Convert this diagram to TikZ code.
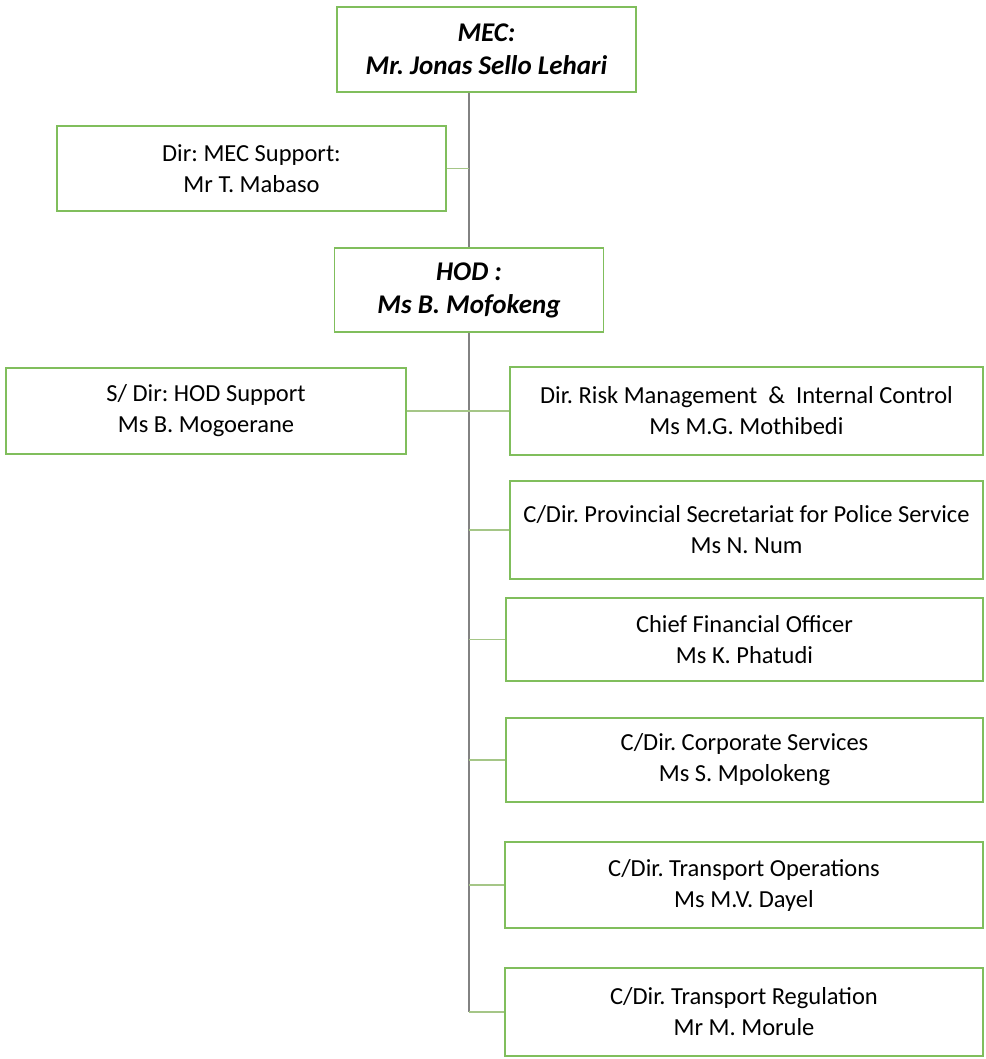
\documentclass[tikz,border=0pt]{standalone}
\usepackage{fontspec}
\setmainfont{Carlito}
\definecolor{boxgreen}{RGB}{128,190,92}
\definecolor{linegray}{RGB}{130,130,130}
\definecolor{linkgreen}{RGB}{165,198,135}
\begin{document}
\frenchspacing
\begin{tikzpicture}[x=1pt,y=-1pt,
  orgbox/.style={draw=boxgreen, line width=1.6pt, fill=white, rectangle, inner sep=0pt,
    align=center, font=\fontsize{24.5}{31}\selectfont},
  topbox/.style={orgbox, font=\fontsize{27}{33}\selectfont\bfseries\itshape},
  trunk/.style={draw=linegray, line width=1.4pt},
  link/.style={draw=linkgreen, line width=1.2pt}]
\useasboundingbox (0,0) rectangle (985,1059);
\fill[white] (0,0) rectangle (985,1059);
% boxes
\node[topbox, minimum width=299pt, minimum height=85pt] (mec) at (486.5,49.5) {MEC:\\Mr. Jonas Sello Lehari};
\node[orgbox, minimum width=389pt, minimum height=85pt] (sup) at (251.5,168.5) {Dir: MEC Support:\\Mr T. Mabaso};
\node[topbox, minimum width=269pt, minimum height=84pt] (hod) at (469,290) {HOD :\\Ms B. Mofokeng};
\node[orgbox, minimum width=400pt, minimum height=86pt] (sdir) at (206,411) {S/ Dir: HOD Support\\Ms B. Mogoerane};
\node[orgbox, minimum width=473pt, minimum height=88pt] (risk) at (746.5,411) {Dir. Risk Management \ \& \ Internal Control\\Ms M.G. Mothibedi};
\node[orgbox, minimum width=473pt, minimum height=98pt] (prov) at (746.5,530) {C/Dir. Provincial Secretariat for Police Service\\Ms N. Num};
\node[orgbox, minimum width=477pt, minimum height=83pt] (cfo) at (744.5,639.5) {Chief Financial Officer\\Ms K. Phatudi};
\node[orgbox, minimum width=477pt, minimum height=84pt] (corp) at (744.5,760) {C/Dir. Corporate Services\\Ms S. Mpolokeng};
\node[orgbox, minimum width=478pt, minimum height=86pt] (tops) at (744,885) {C/Dir. Transport Operations\\Ms M.V. Dayel};
\node[orgbox, minimum width=478pt, minimum height=88pt] (treg) at (744,1012) {C/Dir. Transport Regulation\\Mr M. Morule};
% connectors
\draw[trunk] (hod.north |- mec.south) -- (hod.north);
\draw[link] (sup.east) -- (sup.east -| hod.north);
\draw[trunk] (hod.south) -- (hod.south |- treg.west);
\draw[link] (sdir.east) -- (risk.west);
\draw[link] (hod.south |- prov.west) -- (prov.west);
\draw[link] (hod.south |- cfo.west) -- (cfo.west);
\draw[link] (hod.south |- corp.west) -- (corp.west);
\draw[link] (hod.south |- tops.west) -- (tops.west);
\draw[link] (hod.south |- treg.west) -- (treg.west);
\end{tikzpicture}
\end{document}
